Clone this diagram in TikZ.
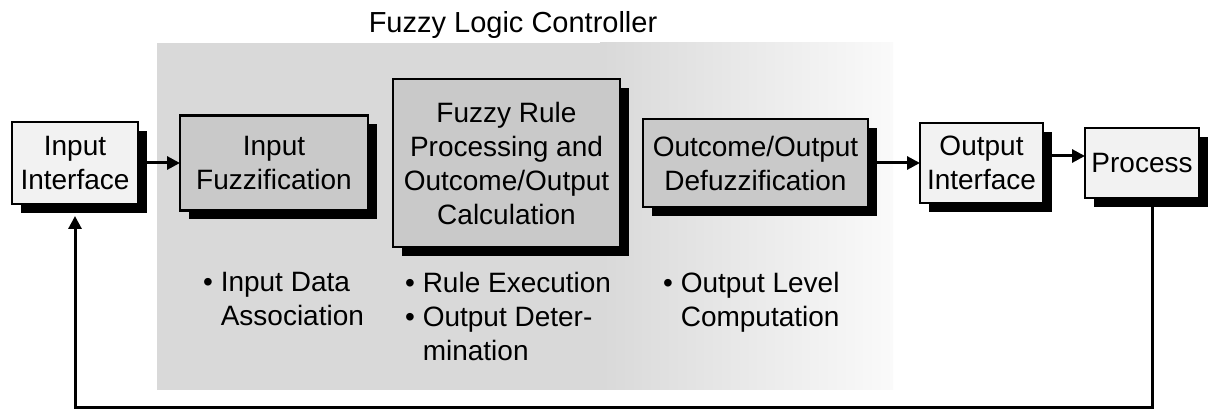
\documentclass[tikz,border=0pt]{standalone}
\usepackage{fontspec}
\setmainfont{Liberation Sans}
\usetikzlibrary{arrows.meta, positioning, shadows}
\newcommand{\boxfont}{\fontsize{28pt}{34pt}\selectfont}
\newcommand{\titlefont}{\fontsize{29pt}{34pt}\selectfont}
\tikzset{
  lightbox/.style={rectangle, draw=black, fill=gray!10, line width=2.5pt,
                   drop shadow={shadow xshift=9pt, shadow yshift=-9pt,
                                fill=black, opacity=1},
                   font=\boxfont, align=center, inner sep=4pt, outer sep=0pt},
  darkbox/.style={lightbox, fill=gray!42},
  notetext/.style={font=\boxfont, align=left, inner sep=0pt,
                   anchor=north west},
}

\begin{document}
\begin{tikzpicture}[x=1pt, y=-1pt,
          arr/.style={-{Triangle[length=13pt,width=13pt]}, line width=3pt},
          node distance=20pt
        ]
          \useasboundingbox (0,0) rectangle (1208,411);
          % controller area
          \fill[gray!30] (157,43) rectangle (600,390);
          \shade[left color=gray!30, right color=gray!4] (600,43) rectangle (893,390);
          \node[font=\titlefont] (title) at (513,25) {Fuzzy Logic Controller};

          \node[lightbox, minimum width=126pt, minimum height=82pt] (iface)
            at (75,163) {Input\\Interface};
          \node[darkbox, minimum width=188pt, minimum height=95pt,
                right=42pt of iface] (fuzz) {Input\\Fuzzification};
          \node[darkbox, minimum width=227pt, minimum height=168pt,
                right=25pt of fuzz] (rule)
            {Fuzzy Rule\\Processing and\\Outcome/Output\\Calculation};
          \node[darkbox, minimum width=225pt, minimum height=88pt,
                right=23pt of rule] (defuzz) {Outcome/Output\\Defuzzification};
          \node[lightbox, minimum width=123pt, minimum height=80pt,
                right=52pt of defuzz] (oiface) {Output\\Interface};
          \node[lightbox, minimum width=114pt, minimum height=70pt,
                right=42pt of oiface] (proc) {Process};

          \node[notetext] (fuzznote) at (203,272)
            {\textbullet\ Input Data\\\phantom{\textbullet\ }Association};
          \node[notetext] (rulenote) at (405,272)
            {\textbullet\ Rule Execution\\\textbullet\ Output Deter-\\\phantom{\textbullet\ }mination};
          \node[notetext] (defuzznote) at (663,272)
            {\textbullet\ Output Level\\\phantom{\textbullet\ }Computation};

          \draw[arr] (iface.east) -- (fuzz.west);
          \draw[arr] (defuzz.east) -- (oiface.west);
          \draw[arr] ([yshift=7pt]oiface.east) -- ([yshift=7pt]proc.west);
          % feedback
          \coordinate (pdrop) at ([xshift=10pt]proc.south);
          \coordinate (fbr) at (pdrop |- 0,408);
          \coordinate (fbl) at (iface.south |- fbr);
          \draw[arr, shorten >=12pt] (pdrop) -- (fbr) -- (fbl) -- (iface.south);
        \end{tikzpicture}
\end{document}
